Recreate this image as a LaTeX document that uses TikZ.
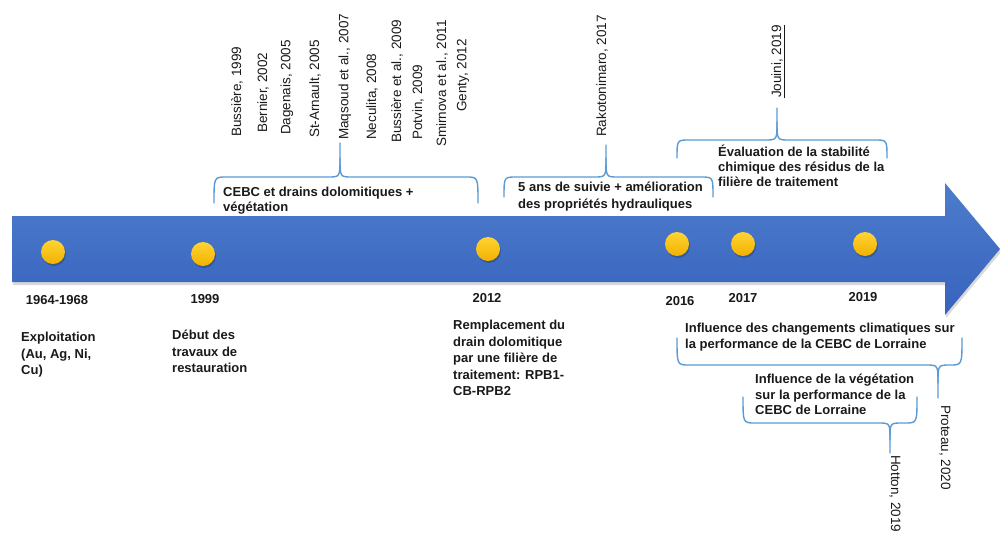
\documentclass[tikz,border=0pt]{standalone}
\usepackage{fontspec}
\setmainfont{Liberation Sans}
\definecolor{txt}{HTML}{1A1A1A}
\definecolor{arrT}{HTML}{4D7CCC}
\definecolor{arrB}{HTML}{3763BD}
\definecolor{dotT}{HTML}{FFD433}
\definecolor{dotB}{HTML}{F2B100}
\definecolor{braceblue}{HTML}{5B9BD5}
% brace: xl, xt, xr, yends, yhoriz, ytipcurve, ytip
\newcommand\mybrace[7]{%
  \draw[brace] (#1,#4) .. controls (#1,#5) .. ({#1+12},#5) -- ({#2-12},#5)
     .. controls (#2,#5) .. (#2,#6) -- (#2,#7);
  \draw[brace] (#2,#6) .. controls (#2,#5) .. ({#2+12},#5) -- ({#3-12},#5)
     .. controls (#3,#5) .. (#3,#4);
}
\begin{document}
\begin{tikzpicture}[x=1pt,y=-1pt,
  lbl/.style={font=\bfseries\fontsize{13}{16.5}\selectfont, align=left, anchor=north west, inner sep=0pt, text=txt},
  yr/.style={font=\bfseries\fontsize{13}{16}\selectfont, anchor=base, inner sep=0pt, text=txt},
  cite/.style={font=\fontsize{13.5}{16}\selectfont, rotate=90, anchor=west, inner sep=0pt, text=txt},
  citedown/.style={font=\fontsize{13.5}{16}\selectfont, rotate=-90, anchor=west, inner sep=0pt, text=txt},
  dot/.style={circle, minimum size=24pt, inner sep=0pt, top color=dotT, bottom color=dotB, draw=none},
  brace/.style={draw=braceblue, line width=1.4pt, line join=round, line cap=round}]
\clip (0,0) rectangle (1000,533);
\fill[white] (0,0) rectangle (1000,533);
% arrow shadow
\fill[black, opacity=0.15] (13,219) -- (946,219) -- (946,186) -- (1001,252) -- (946,318) -- (946,285) -- (13,285) -- cycle;
% arrow
\shade[top color=arrT, bottom color=arrB] (12,216) -- (945,216) -- (945,183) -- (1000,249) -- (945,315) -- (945,282) -- (12,282) -- cycle;
% dots
\foreach \n/\x/\y in {d1/53/252, d2/203/254, d3/488/249, d4/677/244, d5/743/244, d6/865/244}{
  \fill[black, opacity=0.2] (\x+1,\y+2) circle (12);
  \node[dot] (\n) at (\x,\y) {};
}
% years
\node[yr] (y1) at (57,304.7) {1964-1968};
\node[yr] (y2) at (205,303.7) {1999};
\node[yr] (y3) at (487,302.7) {2012};
\node[yr] (y4) at (680,305.7) {2016};
\node[yr] (y5) at (743,302.7) {2017};
\node[yr] (y6) at (863,301.7) {2019};
% bottom labels
\node[lbl] (l1) at (21,328.7) {\rule{0pt}{13pt}Exploitation\\(Au, Ag, Ni,\\Cu)};
\node[lbl] (l2) at (172,326.7) {\rule{0pt}{13pt}Début des\\travaux de\\restauration};
\node[lbl] (l3) at (453,316.7) {\rule{0pt}{13pt}Remplacement du\\drain dolomitique\\par une filière de\\traitement: RPB1-\\CB-RPB2};
% braces
\mybrace{214}{340}{478}{203}{177}{158}{143}
\mybrace{504}{606}{713}{197}{177}{158}{145}
\mybrace{677}{777}{887}{158}{140}{122}{108}
\mybrace{677}{938}{962}{338}{365}{383}{398}
\mybrace{743}{890}{917}{397}{423}{440}{453}
% brace labels
\node[lbl, font=\bfseries\fontsize{13}{15}\selectfont] (t1) at (223,183.7) {\rule{0pt}{13pt}CEBC et drains dolomitiques +\\végétation};
\node[lbl, font=\bfseries\fontsize{13}{17}\selectfont] (t2) at (518,178.7) {\rule{0pt}{13pt}5 ans de suivie + amélioration\\des propriétés hydrauliques};
\node[lbl, font=\bfseries\fontsize{13}{15}\selectfont] (t3) at (718,143.7) {\rule{0pt}{13pt}Évaluation de la stabilité\\chimique des résidus de la\\filière de traitement};
\node[lbl, font=\bfseries\fontsize{13}{16}\selectfont] (t4) at (685,319.7) {\rule{0pt}{13pt}Influence des changements climatiques sur\\la performance de la CEBC de Lorraine};
\node[lbl, font=\bfseries\fontsize{13}{15.5}\selectfont] (t5) at (755,370.7) {\rule{0pt}{13pt}Influence de la végétation\\sur la performance de la\\CEBC de Lorraine};
% citations
\node[cite] (c1) at (237,137) {Bussière, 1999};
\node[cite] (c2) at (263,133) {Bernier, 2002};
\node[cite] (c3) at (287,135) {Dagenais, 2005};
\node[cite] (c4) at (315,138) {St-Arnault, 2005};
\node[cite] (c5) at (345,140) {Maqsoud et al., 2007};
\node[cite] (c6) at (372,140) {Neculita, 2008};
\node[cite] (c7) at (397,143) {Bussière et al., 2009};
\node[cite] (c8) at (418,140) {Potvin, 2009};
\node[cite] (c9) at (442,147) {Smirnova et al., 2011};
\node[cite] (c10) at (463,112) {Genty, 2012};
\node[cite] (c11) at (602,137) {Rakotonimaro, 2017};
\node[cite] (c12) at (778,98) {\underline{Jouini, 2019}};
\node[citedown] (c13) at (895,455) {Hotton, 2019};
\node[citedown] (c14) at (945,405) {Proteau, 2020};
\end{tikzpicture}
\end{document}
